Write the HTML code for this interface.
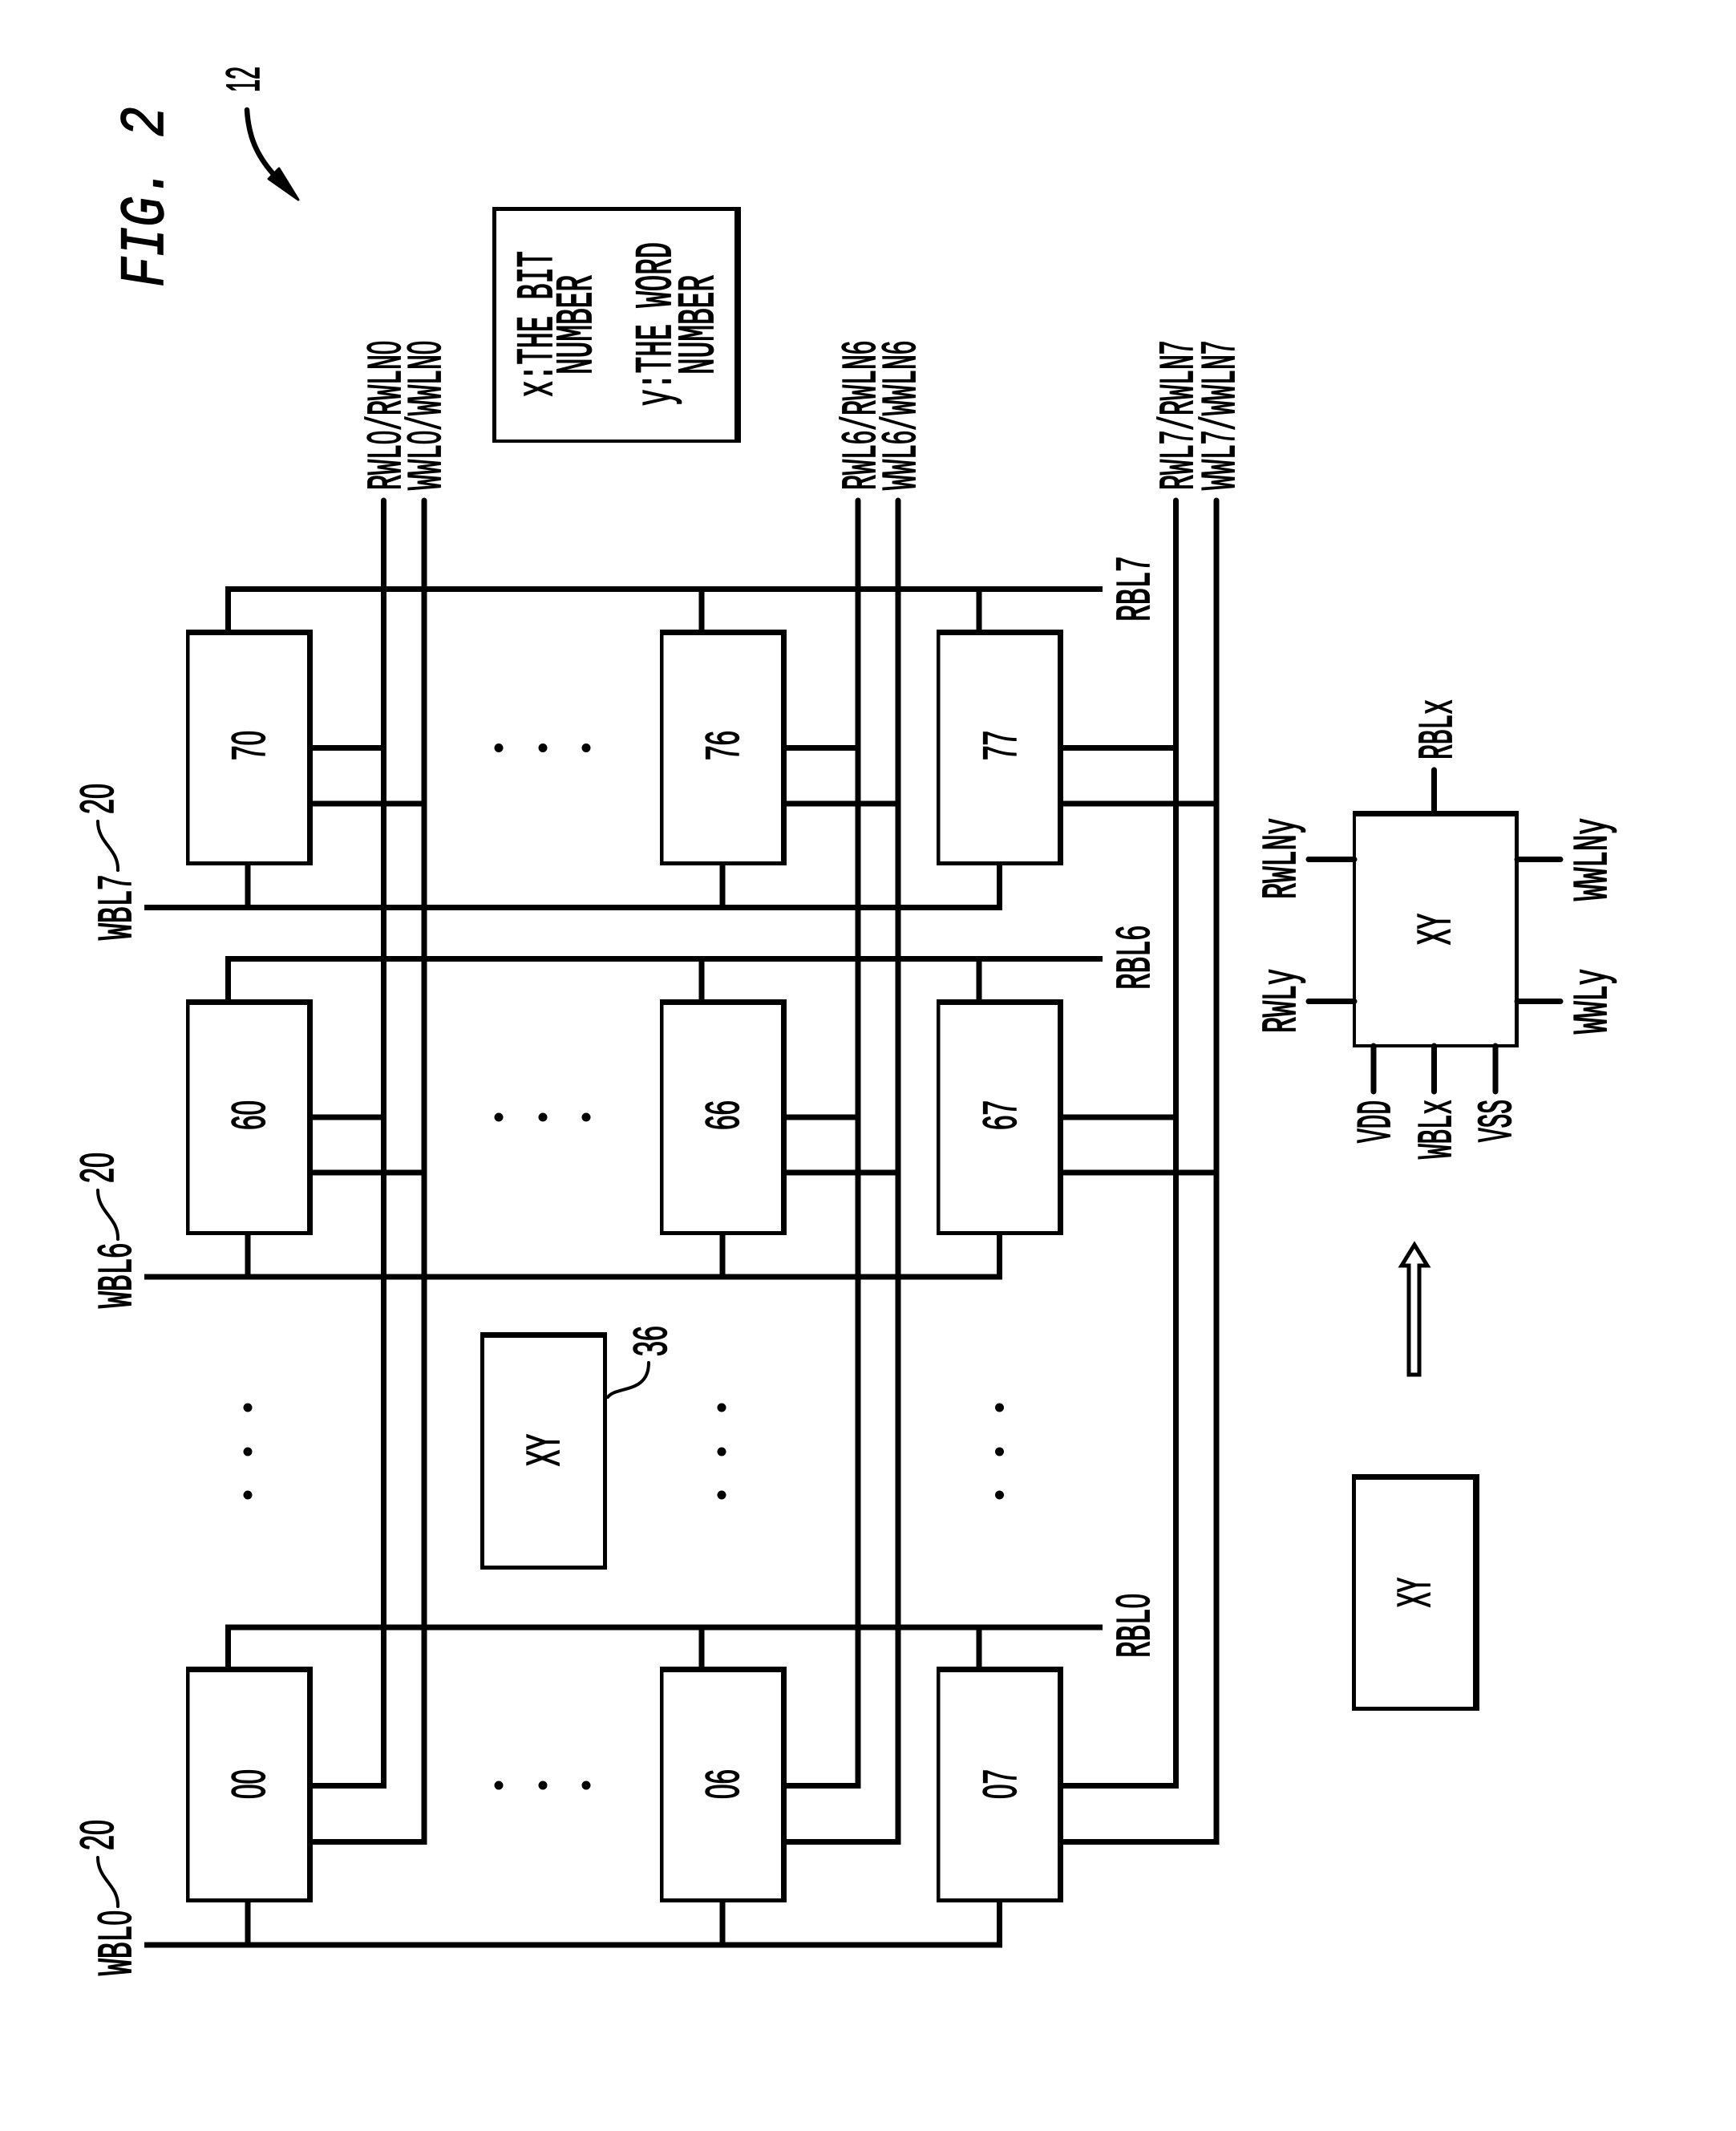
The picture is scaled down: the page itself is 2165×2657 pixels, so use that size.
<!DOCTYPE html>
<html>
<head>
<meta charset="utf-8">
<style>
html,body{margin:0;padding:0;background:#fff}
svg{display:block}
text{font-family:"Liberation Mono",monospace;font-size:60px;fill:#000;stroke:#000;stroke-width:1.8;}
.d,tspan.d{font-family:"Liberation Sans",sans-serif;font-size:58px;stroke-width:1.5}
.l{font-size:64px}
.fig{font-style:italic;font-size:78px;stroke-width:1.5}
.w{fill:none;stroke:#000;stroke-width:7;stroke-linecap:butt}
.r{fill:none;stroke:#000;stroke-width:7;stroke-linecap:round}
.t{fill:none;stroke:#000;stroke-width:4;stroke-linecap:round}
</style>
</head>
<body>
<svg xmlns="http://www.w3.org/2000/svg" width="2165" height="2657" viewBox="0 0 2165 2657">
<rect width="2165" height="2657" fill="#fff"/>
<defs>
<path id="c" fill-rule="evenodd" d="M0 0H158V294H0Z M4.5 7H151V289H4.5Z"/>
</defs>

<!-- cells -->
<use href="#c" x="232" y="785"/><use href="#c" x="823" y="785"/><use href="#c" x="1168" y="785"/>
<use href="#c" x="232" y="1246"/><use href="#c" x="823" y="1246"/><use href="#c" x="1168" y="1246"/>
<use href="#c" x="232" y="2078"/><use href="#c" x="823" y="2078"/><use href="#c" x="1168" y="2078"/>

<!-- RBL buses and stubs -->
<path class="w" d="M284.5 785V734.5H1375M875 734.5V785M1221 734.5V785"/>
<path class="w" d="M284.5 1246V1195.5H1375M875 1195.5V1246M1221 1195.5V1246"/>
<path class="w" d="M284.5 2078V2029H1375M875 2029V2078M1221 2029V2078"/>

<!-- WBL buses and stubs -->
<path class="w" d="M180 1131.5H1246.5V1077M309 1077V1131.5M901 1077V1131.5"/>
<path class="w" d="M180 1592H1246.5V1538M309 1538V1592M901 1538V1592"/>
<path class="w" d="M180 2425H1246.5V2370M309 2370V2425M901 2370V2425"/>

<!-- word lines -->
<path class="w" d="M478.5 624V2226.5H386M386 932.5H478.5M386 1393H478.5"/>
<path class="w" d="M529 624V2296.5H386M386 1002H529M386 1462H529"/>
<path class="w" d="M1070 624V2226.5H977M977 932.5H1070M977 1393H1070"/>
<path class="w" d="M1120 624V2296.5H977M977 1002H1120M977 1462H1120"/>
<path class="w" d="M1466.5 624V2226.5H1322M1322 932.5H1466.5M1322 1393H1466.5"/>
<path class="w" d="M1517 624V2296.5H1322M1322 1002H1517M1322 1462H1517"/>
<circle cx="478.5" cy="624" r="3.5"/><circle cx="529" cy="624" r="3.5"/>
<circle cx="1070" cy="624" r="3.5"/><circle cx="1120" cy="624" r="3.5"/>
<circle cx="1466.5" cy="624" r="3.5"/><circle cx="1517" cy="624" r="3.5"/>

<!-- ellipsis dots -->
<g>
<circle cx="622" cy="932.5" r="5.5"/><circle cx="677" cy="932.5" r="5.5"/><circle cx="731" cy="932.5" r="5.5"/>
<circle cx="622" cy="1393" r="5.5"/><circle cx="677" cy="1393" r="5.5"/><circle cx="731" cy="1393" r="5.5"/>
<circle cx="622" cy="2226" r="5.5"/><circle cx="677" cy="2226" r="5.5"/><circle cx="731" cy="2226" r="5.5"/>
<circle cx="309" cy="1755" r="5.5"/><circle cx="309" cy="1810" r="5.5"/><circle cx="309" cy="1864" r="5.5"/>
<circle cx="900" cy="1755" r="5.5"/><circle cx="900" cy="1810" r="5.5"/><circle cx="900" cy="1864" r="5.5"/>
<circle cx="1246.5" cy="1755" r="5.5"/><circle cx="1246.5" cy="1810" r="5.5"/><circle cx="1246.5" cy="1864" r="5.5"/>
</g>

<!-- legend box -->
<path fill-rule="evenodd" d="M614 258H924V552H614Z M619 263H916V548H619Z"/>
<!-- mid XY box -->
<path fill-rule="evenodd" d="M599 1661H757V1957H599Z M604 1668H752V1952H604Z"/>
<!-- big XY box -->
<path fill-rule="evenodd" d="M1687 1011H1894V1306H1687Z M1691 1018H1889V1302H1691Z"/>
<!-- lower XY box -->
<path fill-rule="evenodd" d="M1686 1838H1845V2133H1686Z M1691 1845H1837V2128H1691Z"/>

<!-- big XY stubs -->
<path class="r" d="M1788.5 960V1012M1632 1071.5H1689M1632 1248.5H1689M1892 1071.5H1946M1892 1248.5H1946M1713 1304V1361M1788.5 1304V1361M1865 1304V1361"/>

<!-- hollow arrow -->
<path fill="#fff" stroke="#000" stroke-width="5" stroke-linejoin="miter" d="M1764 1552L1748 1578H1757V1714H1770V1578H1780Z"/>

<!-- leaders -->
<path class="t" d="M147 1085C148 1058 122 1052 122 1024"/>
<path class="t" d="M147 1545C148 1518 122 1512 122 1484"/>
<path class="t" d="M147 2377C148 2350 122 2344 122 2316"/>
<path class="t" d="M758 1742C768 1728 809 1738 809 1699"/>

<!-- arrow 12 -->
<path fill="none" stroke="#000" stroke-width="6.5" stroke-linecap="round" d="M308 137C310 170 320 193 340 216"/>
<polygon stroke="#000" stroke-width="3" stroke-linejoin="round" points="372,249 335,223 348,210"/>

<!-- labels: baseline x, start y -->
<text class="fig" transform="translate(203,358) rotate(-90)" textLength="225" lengthAdjust="spacingAndGlyphs">FIG. 2</text>
<text class="d" transform="translate(323,115) rotate(-90)" textLength="32" lengthAdjust="spacingAndGlyphs">12</text>

<text class="l" transform="translate(688,495) rotate(-90)" textLength="182" lengthAdjust="spacingAndGlyphs">x:THE BIT</text>
<text class="l" transform="translate(737,467) rotate(-90)" textLength="124" lengthAdjust="spacingAndGlyphs">NUMBER</text>
<text class="l" transform="translate(836,506) rotate(-90)" textLength="204" lengthAdjust="spacingAndGlyphs">y:THE WORD</text>
<text class="l" transform="translate(889,467) rotate(-90)" textLength="124" lengthAdjust="spacingAndGlyphs">NUMBER</text>

<text transform="translate(499,611) rotate(-90)" textLength="186" lengthAdjust="spacingAndGlyphs">RWL<tspan class="d">0</tspan>/RWLN<tspan class="d">0</tspan></text>
<text transform="translate(549,611) rotate(-90)" textLength="186" lengthAdjust="spacingAndGlyphs">WWL<tspan class="d">0</tspan>/WWLN<tspan class="d">0</tspan></text>
<text transform="translate(1091,611) rotate(-90)" textLength="186" lengthAdjust="spacingAndGlyphs">RWL<tspan class="d">6</tspan>/RWLN<tspan class="d">6</tspan></text>
<text transform="translate(1141,611) rotate(-90)" textLength="186" lengthAdjust="spacingAndGlyphs">WWL<tspan class="d">6</tspan>/WWLN<tspan class="d">6</tspan></text>
<text transform="translate(1487,611) rotate(-90)" textLength="186" lengthAdjust="spacingAndGlyphs">RWL<tspan class="d">7</tspan>/RWLN<tspan class="d">7</tspan></text>
<text transform="translate(1539,611) rotate(-90)" textLength="186" lengthAdjust="spacingAndGlyphs">WWL<tspan class="d">7</tspan>/WWLN<tspan class="d">7</tspan></text>

<text transform="translate(1433,775) rotate(-90)" textLength="81" lengthAdjust="spacingAndGlyphs">RBL<tspan class="d">7</tspan></text>
<text transform="translate(1433,1234) rotate(-90)" textLength="80" lengthAdjust="spacingAndGlyphs">RBL<tspan class="d">6</tspan></text>
<text transform="translate(1433,2067) rotate(-90)" textLength="80" lengthAdjust="spacingAndGlyphs">RBL<tspan class="d">0</tspan></text>

<text transform="translate(163,1172) rotate(-90)" textLength="81" lengthAdjust="spacingAndGlyphs">WBL<tspan class="d">7</tspan></text>
<text transform="translate(163,1631) rotate(-90)" textLength="81" lengthAdjust="spacingAndGlyphs">WBL<tspan class="d">6</tspan></text>
<text transform="translate(163,2463) rotate(-90)" textLength="81" lengthAdjust="spacingAndGlyphs">WBL<tspan class="d">0</tspan></text>

<text class="d" transform="translate(141,1015) rotate(-90)" textLength="38" lengthAdjust="spacingAndGlyphs">20</text>
<text class="d" transform="translate(141,1475) rotate(-90)" textLength="38" lengthAdjust="spacingAndGlyphs">20</text>
<text class="d" transform="translate(141,2307) rotate(-90)" textLength="38" lengthAdjust="spacingAndGlyphs">20</text>

<text class="d" transform="translate(330,948) rotate(-90)" textLength="37" lengthAdjust="spacingAndGlyphs">70</text>
<text class="d" transform="translate(921,948) rotate(-90)" textLength="37" lengthAdjust="spacingAndGlyphs">76</text>
<text class="d" transform="translate(1267,948) rotate(-90)" textLength="37" lengthAdjust="spacingAndGlyphs">77</text>
<text class="d" transform="translate(330,1409) rotate(-90)" textLength="37" lengthAdjust="spacingAndGlyphs">60</text>
<text class="d" transform="translate(921,1409) rotate(-90)" textLength="37" lengthAdjust="spacingAndGlyphs">66</text>
<text class="d" transform="translate(1267,1409) rotate(-90)" textLength="37" lengthAdjust="spacingAndGlyphs">67</text>
<text class="d" transform="translate(330,2243) rotate(-90)" textLength="37" lengthAdjust="spacingAndGlyphs">00</text>
<text class="d" transform="translate(921,2243) rotate(-90)" textLength="37" lengthAdjust="spacingAndGlyphs">06</text>
<text class="d" transform="translate(1267,2243) rotate(-90)" textLength="37" lengthAdjust="spacingAndGlyphs">07</text>

<text transform="translate(697,1828) rotate(-90)" textLength="40" lengthAdjust="spacingAndGlyphs">XY</text>
<text class="d" transform="translate(831,1691) rotate(-90)" textLength="38" lengthAdjust="spacingAndGlyphs">36</text>
<text transform="translate(1808,1178) rotate(-90)" textLength="39" lengthAdjust="spacingAndGlyphs">XY</text>
<text transform="translate(1783,2004) rotate(-90)" textLength="37" lengthAdjust="spacingAndGlyphs">XY</text>

<text transform="translate(1810,947) rotate(-90)" textLength="75" lengthAdjust="spacingAndGlyphs">RBLx</text>
<text transform="translate(1615,1121) rotate(-90)" textLength="101" lengthAdjust="spacingAndGlyphs">RWLNy</text>
<text transform="translate(1615,1288) rotate(-90)" textLength="80" lengthAdjust="spacingAndGlyphs">RWLy</text>
<text transform="translate(2003,1123) rotate(-90)" textLength="103" lengthAdjust="spacingAndGlyphs">WWLNy</text>
<text transform="translate(2003,1289) rotate(-90)" textLength="81" lengthAdjust="spacingAndGlyphs">WWLy</text>
<text transform="translate(1733,1425) rotate(-90)" textLength="53" lengthAdjust="spacingAndGlyphs">VDD</text>
<text transform="translate(1809,1445) rotate(-90)" textLength="74" lengthAdjust="spacingAndGlyphs">WBLx</text>
<text transform="translate(1884,1424) rotate(-90)" textLength="53" lengthAdjust="spacingAndGlyphs">VSS</text>
</svg>
</body>
</html>
